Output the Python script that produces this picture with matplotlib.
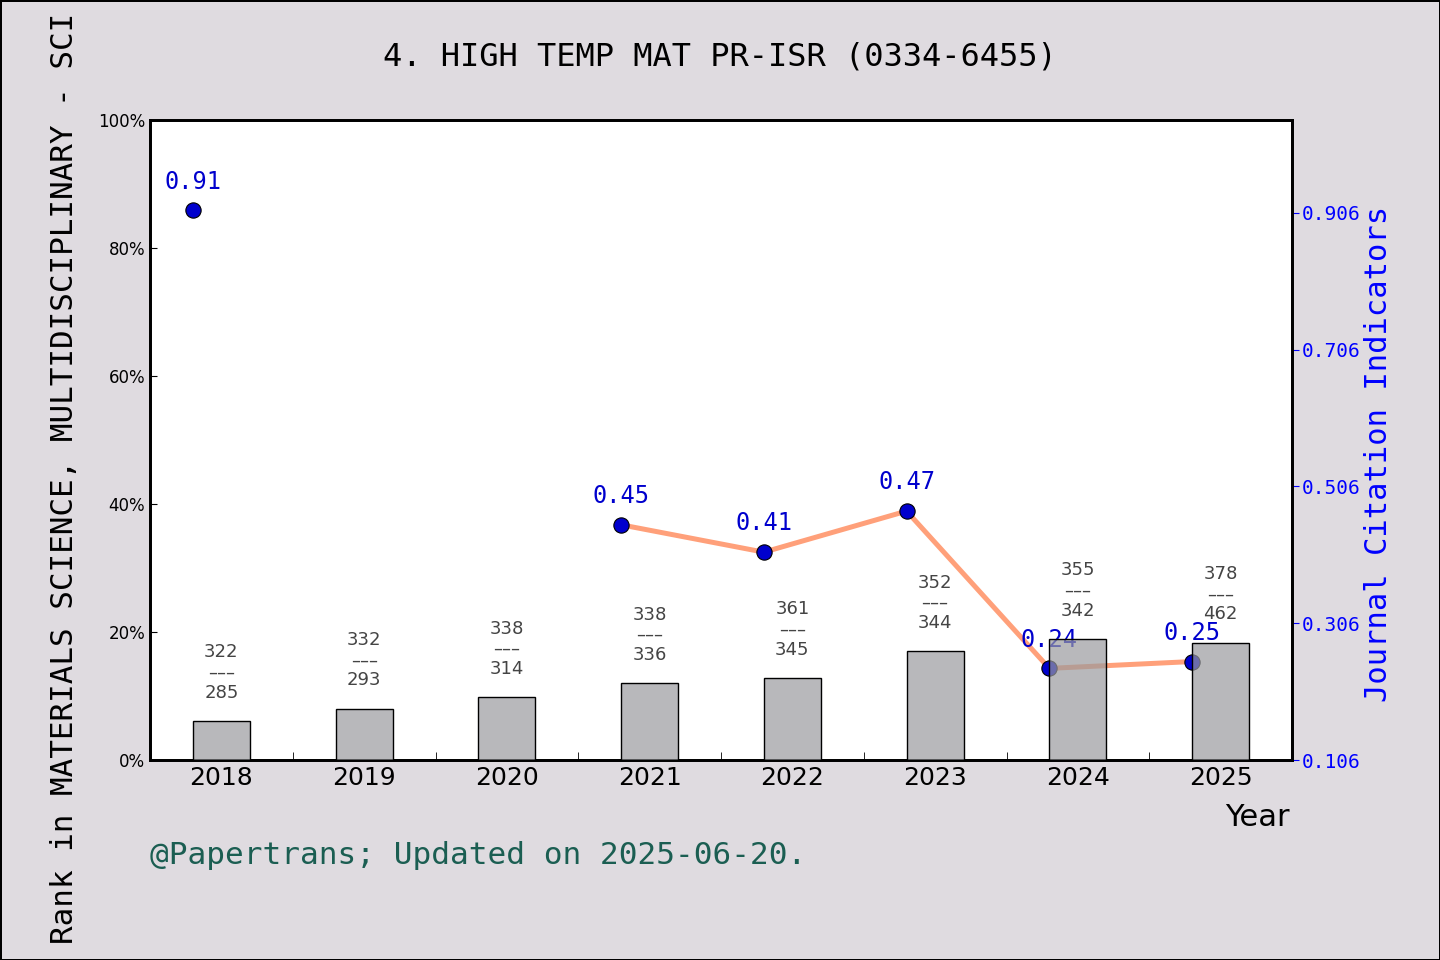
import matplotlib
matplotlib.use("Agg")
import matplotlib.pyplot as plt
import numpy as np

# data
years = ["2018", "2019", "2020", "2021", "2022", "2023", "2024", "2025"]
rank_pct = [6.1, 8.0, 9.8, 12.0, 12.8, 17.0, 18.9, 18.3]
rank_top = [322, 332, 338, 338, 361, 352, 355, 378]
rank_bottom = [285, 293, 314, 336, 345, 344, 342, 462]
jci = [0.91, np.nan, np.nan, 0.45, 0.41, 0.47, 0.24, 0.25]
jci_ticks = [0.106, 0.306, 0.506, 0.706, 0.906]

bg = "#dfdbe0"
mono = "DejaVu Sans Mono"

fig = plt.figure(figsize=(14.4, 9.6), dpi=100, facecolor=bg,
                 edgecolor="black", linewidth=2)
ax = fig.add_axes([150 / 1440, 1 - 760 / 960, 1142 / 1440, 640 / 960])
ax2 = ax.twinx()
# bars sit in front of the line, semi transparent
ax.set_zorder(2)
ax.patch.set_visible(False)
ax2.set_zorder(1)
ax2.patch.set_visible(True)
ax2.patch.set_facecolor("white")

x = np.arange(len(years))

# JCI line, drawn at the left edge of each bar
ax2.plot(x - 0.2, jci, color="#ffa07a", linewidth=3.6, zorder=2)
ax2.plot(x - 0.2, jci, linestyle="none", marker="o", markersize=11,
         markerfacecolor="#0000cd", markeredgecolor="black",
         markeredgewidth=0.8, zorder=3)
for xi, v in zip(x, jci):
    if np.isnan(v):
        continue
    ax2.annotate(f"{v:.2f}", (xi - 0.2, v), xytext=(0, 12),
                 textcoords="offset points", ha="center", va="bottom",
                 color="#0000cd", fontsize=17, family=mono)
ax2.set_ylim(0.106, 1.042)
ax2.set_yticks(jci_ticks)
ax2.set_yticklabels([f"{t:.3f}" for t in jci_ticks], family=mono)
ax2.tick_params(axis="y", colors="#0000ff", labelsize=14, direction="out",
                length=5, pad=2)
ax2.set_ylabel("Journal Citation Indicators", color="#0000ff", fontsize=22,
               family=mono)
ax2.yaxis.set_label_coords(1.063, 0.478)

# rank bars
bar_face = (0.604, 0.608, 0.62, 0.7)
ax.bar(x, rank_pct, width=0.4, color=bar_face, edgecolor="black",
       linewidth=1, zorder=3)
for xi, h, a, b in zip(x, rank_pct, rank_top, rank_bottom):
    ax.annotate(f"{a}\n\u2013\u2013\u2013\n{b}", (xi, h), xytext=(0, 14),
                textcoords="offset points", ha="center", va="bottom",
                color="#444444", fontsize=13, linespacing=1.15)

ax.set_xlim(-0.5, len(years) - 0.5)
ax.set_ylim(0, 100)
ax.set_yticks(range(0, 101, 20))
ax.set_yticklabels([f"{t}%" for t in range(0, 101, 20)])
ax.tick_params(axis="y", labelsize=12, direction="in", length=5)
ax.set_xticks(x)
ax.set_xticklabels(years)
ax.tick_params(axis="x", which="major", length=0, labelsize=18, pad=4)
ax.set_xticks(np.arange(0.5, len(years) - 0.5, 1), minor=True)
ax.tick_params(axis="x", which="minor", direction="in", length=6)

for a in (ax, ax2):
    for s in a.spines.values():
        s.set_linewidth(2)

ax.set_ylabel("Rank in MATERIALS SCIENCE, MULTIDISCIPLINARY - SCI",
              fontsize=22.3, family=mono)
ax.yaxis.set_label_coords(-0.062, 0.44)

fig.text(0.5, 1 - 57 / 960, "4. HIGH TEMP MAT PR-ISR (0334-6455)",
         ha="center", va="center", fontsize=23, family=mono)
fig.text(1290 / 1440, 1 - 817 / 960, "Year", ha="right", va="center",
         fontsize=22)
fig.text(150 / 1440, 1 - 855 / 960, "@Papertrans; Updated on 2025-06-20.",
         ha="left", va="center", fontsize=22.4, family=mono, color="#1b5e52")

fig.savefig("out.png", dpi=100, facecolor=bg, edgecolor="black")
